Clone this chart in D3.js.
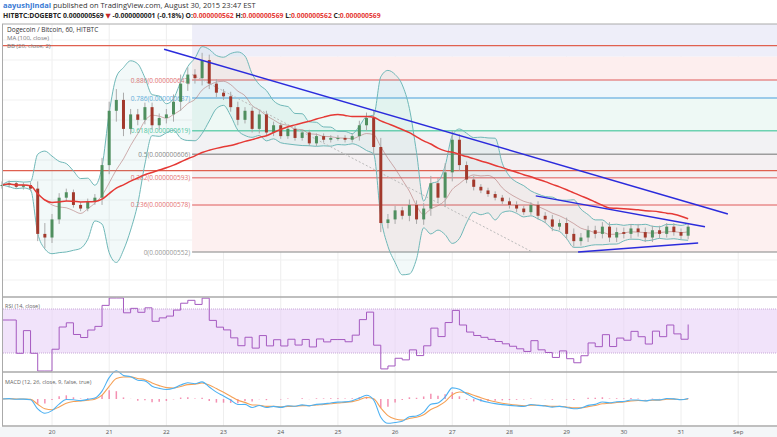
<!DOCTYPE html>
<html><head><meta charset="utf-8">
<script src="https://cdn.jsdelivr.net/npm/d3@7"></script>
<style>
body{margin:0;background:#fff;font-family:"Open Sans","DejaVu Sans",sans-serif}
text{font-family:"Open Sans","DejaVu Sans",sans-serif}
</style></head><body>
<svg id="c" width="777" height="437"></svg>
<script>
// closes, 3-hour bars from Aug 19 03:00, in units of 1e-9 BTC
var startDay = 19.125, step = 0.125;
var closes = [
    589, 590, 588, 589, 587, 562, 560,
    570, 582, 585, 578, 576, 580, 582, 600,
    630, 636, 620, 628, 625, 632, 622, 626,
    628, 635, 645, 650, 648, 658, 645, 640,
    638, 632, 625, 630, 620, 628, 618, 622,
    616, 620, 615, 618, 612, 616, 614, 615,
    615, 614, 616, 622, 626, 610, 568, 570,
    575, 572, 578, 570, 576, 590, 582, 596,
    614, 600, 592, 588, 586, 584, 582, 580,
    578, 576, 574, 578, 572, 570, 566, 568,
    562, 558, 560, 564, 562, 566, 560, 563,
    562, 565, 563, 560, 564, 562, 566, 563,
    561, 566
];
var wicks = [4,3,2,3,3,8,12, 6,5,4,3,3,3,4,8, 10,12,8,6,6,5,5,5, 6,8,10,8,6,8,6,5,
    4,5,6,4,4,5,4,4, 3,3,3,3,3,3,3,3, 3,3,3,5,6,8,10,6, 5,4,6,5,6,8,6,10,
    10,6,4,4,3,3,3,3, 4,4,3,3,4,4,5,4, 6,6,5,5,5,5,5,5, 5,5,5,5,5,5,4,4, 4,4];
var fibRatios = [0, 0.236, 0.382, 0.5, 0.618, 0.786, 0.886, 1];
var fibPrices = [552, 578, 593, 606, 619, 637, 647, 660];
var fibColors = ['#999', '#e57373', '#e57373', '#888', '#4dc9a0', '#64aee0', '#e57373', '#888'];
var fibFills = ['#fdf0f0', '#fdf0f0', '#f5f0f2', '#f2f2f4', '#eef9f5', '#eef6fb', '#fdeeee', '#eeeef9'];
var dayTicks = [20, 21, 22, 23, 24, 25, 26, 27, 28, 29, 30, 31, 32];
var dayLabels = ['20', '21', '22', '23', '24', '25', '26', '27', '28', '29', '30', '31', 'Sep'];
// trend lines: [day, price] pairs
var trendLines = [
    [[21.96, 664], [31.82, 573]],
    [[28.46, 583], [31.42, 566]],
    [[29.2, 552], [31.3, 557]]
];
var fibDiag = [[22.45, 650], [28.4, 552]];

var svg = d3.select('#c');
var x = d3.scaleLinear().domain([20, 31]).range([52, 681]);
var y = d3.scaleLinear().domain([552, 647]).range([252, 80]);
var top0 = 24;

var data = closes.map(function(c, i){
    var o = i ? closes[i-1] : c;
    return {t: startDay + i*step, o: o, c: c,
        h: Math.max(o, c) + wicks[i]*0.5, l: Math.min(o, c) - wicks[i]*0.5};
});

// indicator helpers
function sma(arr, n){
    return arr.map(function(v, i){
        return d3.mean(arr.slice(Math.max(0, i-n+1), i+1));
    });
}
function ema(arr, n){
    var k = 2/(n+1), out = [];
    arr.forEach(function(v, i){ out.push(i ? v*k + out[i-1]*(1-k) : v); });
    return out;
}
var bbMid = sma(closes, 7);
var bbDev = closes.map(function(v, i){
    return d3.deviation(closes.slice(Math.max(0, i-6), i+1)) || 0;
});
var ma100 = sma(closes, 33);

// grid
var grid = svg.append('g');
dayTicks.forEach(function(d){
    grid.append('line').attr('x1', x(d)).attr('x2', x(d)).attr('y1', top0).attr('y2', 426)
        .attr('stroke', '#eee');
});
[40, 60, 80, 100, 120, 140, 160, 180, 200, 220, 240, 260, 280].forEach(function(v){
    grid.append('line').attr('x1', 3).attr('x2', 777).attr('y1', v).attr('y2', v).attr('stroke', '#f1f1f1');
});

// fib zones
var fx0 = x(22.45);
for (var i = 0; i < fibPrices.length; i++){
    var yTop = i < fibPrices.length-1 ? y(fibPrices[i+1]) : top0;
    svg.append('rect').attr('x', fx0).attr('width', 777 - fx0)
        .attr('y', yTop).attr('height', y(fibPrices[i]) - yTop)
        .attr('fill', fibFills[i]);
}
fibPrices.forEach(function(p, i){
    if (i == 7) return;
    svg.append('line').attr('x1', fx0).attr('x2', 777).attr('y1', y(p)).attr('y2', y(p))
        .attr('stroke', fibColors[i]).attr('stroke-width', 1.5).attr('opacity', 0.8);
    svg.append('text').attr('x', fx0 - 2).attr('y', y(p) + 2.5).attr('text-anchor', 'end')
        .attr('font-size', 6.5).attr('fill', fibColors[i])
        .text(fibRatios[i] + '(0.000000' + p + ')');
});

// full width red lines
[y(666), y(597)].forEach(function(v){
    svg.append('line').attr('x1', 3).attr('x2', 777).attr('y1', v).attr('y2', v)
        .attr('stroke', '#e0604f').attr('stroke-width', 1.2);
});

// bollinger
var area = d3.area().x(function(d, i){ return x(data[i].t); })
    .y0(function(d, i){ return y(bbMid[i] - 2*bbDev[i]); })
    .y1(function(d, i){ return y(bbMid[i] + 2*bbDev[i]); }).curve(d3.curveMonotoneX);
svg.append('path').datum(closes).attr('d', area).attr('fill', '#5ab0b0').attr('opacity', 0.08);
function linePath(vals){
    return d3.line().x(function(d, i){ return x(data[i].t); }).y(function(d){ return y(d); })
        .curve(d3.curveMonotoneX)(vals);
}
svg.append('path').attr('d', linePath(closes.map(function(v, i){ return bbMid[i] + 2*bbDev[i]; })))
    .attr('fill', 'none').attr('stroke', '#6fb8b8').attr('stroke-width', 1);
svg.append('path').attr('d', linePath(closes.map(function(v, i){ return bbMid[i] - 2*bbDev[i]; })))
    .attr('fill', 'none').attr('stroke', '#6fb8b8').attr('stroke-width', 1);
svg.append('path').attr('d', linePath(bbMid)).attr('fill', 'none').attr('stroke', '#b07070')
    .attr('stroke-width', 0.8).attr('opacity', 0.7);

// fib diagonal
svg.append('line').attr('x1', x(fibDiag[0][0])).attr('y1', y(fibDiag[0][1]))
    .attr('x2', x(fibDiag[1][0])).attr('y2', y(fibDiag[1][1]))
    .attr('stroke', '#bbb').attr('stroke-dasharray', '2,2');

// candles
var cg = svg.append('g');
data.forEach(function(d){
    var cx = x(d.t);
    cg.append('line').attr('x1', cx).attr('x2', cx).attr('y1', y(d.h)).attr('y2', y(d.l))
        .attr('stroke', '#aaa').attr('stroke-width', 1);
    var up = d.c >= d.o;
    cg.append('rect').attr('x', cx - 1.5).attr('width', 3)
        .attr('y', y(Math.max(d.o, d.c))).attr('height', Math.max(1, Math.abs(y(d.o) - y(d.c))))
        .attr('fill', up ? '#4f8f5f' : '#a2392c');
});

// MA 100
svg.append('path').attr('d', linePath(ma100)).attr('fill', 'none').attr('stroke', '#e53935').attr('stroke-width', 1.5);

// trend lines
trendLines.forEach(function(l){
    svg.append('line').attr('x1', x(l[0][0])).attr('y1', y(l[0][1]))
        .attr('x2', x(l[1][0])).attr('y2', y(l[1][1]))
        .attr('stroke', '#2b2bdc').attr('stroke-width', 1.5);
});

// RSI panel
var rsiY = d3.scaleLinear().domain([30, 70]).range([353, 309]);
var gains = closes.map(function(v, i){ return i ? Math.max(0, v - closes[i-1]) : 0; });
var losses = closes.map(function(v, i){ return i ? Math.max(0, closes[i-1] - v) : 0; });
var ag = ema(gains, 12), al = ema(losses, 12);
var rsi = ag.map(function(g, i){ return al[i] == 0 ? 60 : 100 - 100/(1 + g/al[i]); });
svg.append('rect').attr('x', 3).attr('width', 774).attr('y', rsiY(70)).attr('height', rsiY(30) - rsiY(70))
    .attr('fill', '#e8d0f6').attr('opacity', 0.6);
[70, 30].forEach(function(v){
    svg.append('line').attr('x1', 3).attr('x2', 777).attr('y1', rsiY(v)).attr('y2', rsiY(v))
        .attr('stroke', '#c8a8d8').attr('stroke-dasharray', '1,1');
});
svg.append('path').attr('d', d3.line().x(function(d, i){ return x(data[i].t); })
    .y(function(d){ return Math.max(298, Math.min(371, rsiY(d))); })
    .curve(d3.curveStepAfter)(rsi))
    .attr('fill', 'none').attr('stroke', '#a55ac0').attr('stroke-width', 1);

// MACD panel
var e4 = ema(closes, 4), e9 = ema(closes, 9);
var macd = e4.map(function(v, i){ return v - e9[i]; });
var sig = ema(macd, 3);
var mY = d3.scaleLinear().domain([-14, 14]).range([424, 374]);
svg.append('g').selectAll('line').data(macd).join('line')
    .attr('x1', function(d, i){ return x(data[i].t); }).attr('x2', function(d, i){ return x(data[i].t); })
    .attr('y1', mY(0)).attr('y2', function(d, i){ return mY(d - sig[i]); })
    .attr('stroke', '#f06292').attr('stroke-width', 1.5).attr('opacity', 0.7);
function mLine(vals, col){
    svg.append('path').attr('d', d3.line().x(function(d, i){ return x(data[i].t); })
        .y(function(d){ return mY(d); }).curve(d3.curveMonotoneX)(vals))
        .attr('fill', 'none').attr('stroke', col).attr('stroke-width', 1.1);
}
mLine(sig, '#f5a055');
mLine(macd, '#4db1f2');

// separators and frame
[top0, 297, 372, 426].forEach(function(v){
    svg.append('line').attr('x1', 2).attr('x2', 777).attr('y1', v).attr('y2', v)
        .attr('stroke', '#aaa').attr('stroke-width', v == top0 ? 1 : 1.5);
});
svg.append('line').attr('x1', 2.5).attr('x2', 2.5).attr('y1', top0).attr('y2', 426).attr('stroke', '#aaa');
svg.append('rect').attr('x', 0).attr('y', 427).attr('width', 777).attr('height', 10).attr('fill', '#f4f6f8');
dayTicks.forEach(function(d, i){
    svg.append('text').attr('x', x(d)).attr('y', 434).attr('text-anchor', 'middle')
        .attr('font-size', 6).attr('fill', '#555').text(dayLabels[i]);
});

// header and legends
var h1 = svg.append('text').attr('x', 3).attr('y', 8).attr('font-size', 7.5).attr('fill', '#333');
h1.append('tspan').attr('fill', '#3a7bd5').attr('font-weight', 'bold').text('aayushjindal');
h1.append('tspan').text(' published on TradingView.com, August 30, 2015 23:47 EST');
var h2 = svg.append('text').attr('x', 3).attr('y', 18).attr('font-size', 6.8).attr('fill', '#222').attr('font-weight', 'bold');
h2.append('tspan').text('HITBTC:DOGEBTC 0.000000569 ');
h2.append('tspan').attr('fill', '#c62828').text('▼');
h2.append('tspan').text(' -0.000000001 (-0.18%) O:');
h2.append('tspan').attr('fill', '#e53935').text('0.000000562');
h2.append('tspan').text(' H:');
h2.append('tspan').attr('fill', '#e53935').text('0.000000569');
h2.append('tspan').text(' L:');
h2.append('tspan').attr('fill', '#e53935').text('0.000000562');
h2.append('tspan').text(' C:');
h2.append('tspan').attr('fill', '#e53935').text('0.000000569');
svg.append('text').attr('x', 7).attr('y', 32).attr('font-size', 6.5).attr('fill', '#333').text('Dogecoin / Bitcoin, 60, HITBTC');
svg.append('text').attr('x', 7).attr('y', 40).attr('font-size', 6).attr('fill', '#777').text('MA (100, close)');
svg.append('text').attr('x', 7).attr('y', 48).attr('font-size', 6).attr('fill', '#777').text('BB (20, close, 2)');
svg.append('text').attr('x', 5).attr('y', 308).attr('font-size', 5.5).attr('fill', '#666').text('RSI (14, close)');
svg.append('text').attr('x', 5).attr('y', 384).attr('font-size', 5.5).attr('fill', '#666').text('MACD (12, 26, close, 9, false, true)');
</script></body></html>
